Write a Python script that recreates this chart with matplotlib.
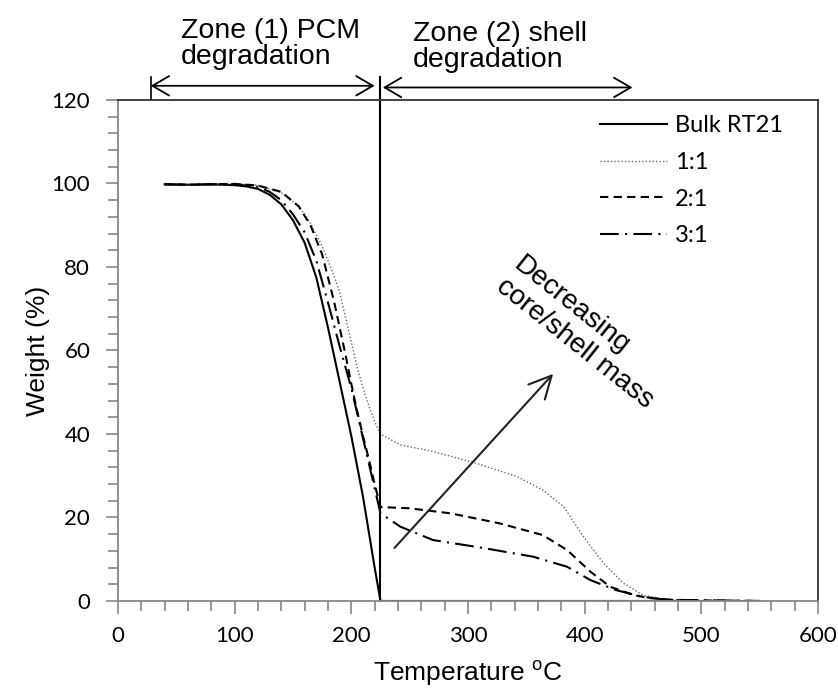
import matplotlib
matplotlib.use("Agg")
import matplotlib.pyplot as plt
from matplotlib.ticker import MultipleLocator

plt.rcParams['mathtext.fontset'] = 'custom'
plt.rcParams['mathtext.rm'] = 'Liberation Sans'

# TGA curves
bulk_t = [40, 60, 80, 100, 110, 120, 130, 140, 150, 160, 170, 180, 190, 200, 210, 220, 225, 550]
bulk_w = [99.8, 99.7, 99.8, 99.6, 99.3, 98.7, 97.3, 95.0, 91.2, 85.8, 77.5, 65.5, 52.5, 39.5, 25, 8, 0, 0]

r11_t = [40, 60, 80, 100, 120, 140, 155, 165, 175, 185, 190, 195, 200, 205, 210, 215, 220, 225,
         242, 270, 307, 342, 364, 382, 399, 416, 433, 450, 470, 500, 550]
r11_w = [99.8, 99.7, 99.8, 100, 99.6, 97.8, 94.5, 90.5, 85, 78, 74, 68, 62, 56, 51, 46.8, 43, 40,
         37.4, 35.8, 33, 29.8, 26.6, 22.6, 15.4, 9.1, 4.3, 1.4, 0.2, 0.05, 0]

r21_t = [40, 60, 80, 100, 120, 140, 155, 165, 175, 185, 190, 195, 200, 205, 210, 215, 220, 225,
         250, 285, 327, 364, 385, 405, 422, 442, 456, 480, 550]
r21_w = [99.8, 99.7, 99.8, 99.9, 99.5, 98.0, 94.5, 90.0, 83, 72, 65.5, 59, 52, 45.5, 39.5, 34, 28, 22.5,
         22.2, 21, 18.6, 15.8, 12.2, 7, 3.4, 1.4, 0.7, 0.2, 0]

r31_t = [40, 60, 80, 100, 120, 130, 140, 150, 160, 170, 180, 190, 200, 210, 220, 225,
         242, 270, 313, 356, 385, 405, 427, 450, 470, 550]
r31_w = [99.8, 99.7, 99.8, 99.8, 99.2, 98.0, 96.0, 92.6, 88.3, 81.5, 71.5, 61, 51, 39, 27, 21,
         17.8, 14.6, 12.7, 10.6, 8.2, 5, 2.6, 1.0, 0.3, 0]

zone_split = 225
zone1_start = 28
zone1_end = 220
zone2_start = 227
zone2_end = 441

fig = plt.figure(figsize=(8.38, 6.9), dpi=100)
ax = fig.add_axes([0.1408, 0.1290, 0.8353, 0.7261])

ax.plot(bulk_t, bulk_w, color='black', lw=1.5, label='Bulk RT21')
ax.plot(r11_t, r11_w, color='#666666', lw=1.0, linestyle=(0, (1, 1.5)), label='1:1')
ax.plot(r21_t, r21_w, color='black', lw=1.5, linestyle=(0, (4, 2.5)), label='2:1')
ax.plot(r31_t, r31_w, color='black', lw=1.5, linestyle=(0, (9, 3, 1, 3)), label='3:1')

# zone boundaries and arrows above the plot
ax.plot([zone_split, zone_split], [0, 125.5], color='black', lw=1.5, clip_on=False)
ax.plot([zone1_start, zone1_start], [120, 125.5], color='black', lw=1.2, clip_on=False)
arrow_kw = dict(arrowstyle='<->, head_length=0.6, head_width=0.35', color='black', lw=1.3,
                shrinkA=0, shrinkB=0, mutation_scale=20)
ax.annotate('', xy=(zone1_start, 123.4), xytext=(zone1_end, 123.4), arrowprops=arrow_kw,
            annotation_clip=False)
ax.annotate('', xy=(zone2_start, 123.0), xytext=(zone2_end, 123.0), arrowprops=arrow_kw,
            annotation_clip=False)

ax.text(54, 128.6, 'Zone (1) PCM\ndegradation', fontsize=20.5, family='Liberation Sans',
        ha='left', va='baseline', linespacing=1.0, clip_on=False)
ax.text(253, 128.0, 'Zone (2) shell\ndegradation', fontsize=20.5, family='Liberation Sans',
        ha='left', va='baseline', linespacing=1.0, clip_on=False)

# trend arrow
ax.annotate('', xy=(373, 54.4), xytext=(237, 12.7),
            arrowprops=dict(arrowstyle='->, head_length=0.8, head_width=0.4', color='#222222',
                            lw=1.5, shrinkA=0, shrinkB=0, mutation_scale=20))
ax.text(399, 64.3, 'Decreasing\ncore/shell mass', fontsize=20, family='Liberation Sans',
        rotation=-38.5, ha='center', va='center', multialignment='left', linespacing=1.12)

ax.set_xlim(0, 600)
ax.set_ylim(0, 120)
ax.xaxis.set_major_locator(MultipleLocator(100))
ax.xaxis.set_minor_locator(MultipleLocator(20))
ax.yaxis.set_major_locator(MultipleLocator(20))
ax.yaxis.set_minor_locator(MultipleLocator(4))

for side in ['left', 'bottom']:
    ax.spines[side].set_color('#888888')
    ax.spines[side].set_linewidth(1.3)
for side in ['top', 'right']:
    ax.spines[side].set_color('#333333')
    ax.spines[side].set_linewidth(1.3)

ax.tick_params(which='major', direction='out', length=9, width=1.2, color='#888888',
               labelsize=16)
ax.tick_params(which='minor', direction='out', length=7, width=1.2, color='#888888')
ax.tick_params(axis='y', which='major', pad=11)
ax.tick_params(axis='x', which='major', pad=9)
for lab in ax.get_xticklabels() + ax.get_yticklabels():
    lab.set_family('Lato')

ax.set_xlabel('Temperature $^{\\rm o}$C', fontsize=19, family='Liberation Sans')
ax.set_ylabel('Weight (%)', fontsize=19, family='Liberation Sans')
ax.xaxis.set_label_coords(0.5, -0.114)
ax.yaxis.set_label_coords(-0.097, 0.5)

ax.legend(loc='upper left', bbox_to_anchor=((600 - 118) / 700, (601 - 115) / 501),
          frameon=False, borderaxespad=0, borderpad=0, handlelength=2.84,
          handletextpad=0.34, labelspacing=0.67, prop={'family': 'Lato', 'size': 17})

fig.savefig('out.png', dpi=100)
